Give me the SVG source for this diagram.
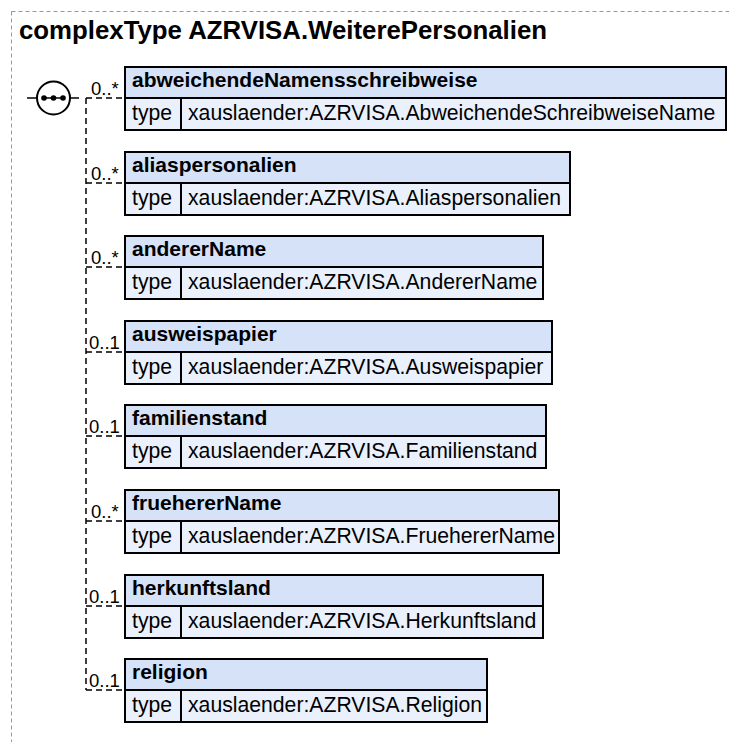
<svg xmlns="http://www.w3.org/2000/svg" width="729" height="742" viewBox="0 0 729 742">
<style>
.frame{fill:none;stroke:#999;stroke-width:1;stroke-dasharray:4 3}
.title{font-family:"Liberation Sans",Arial,sans-serif;font-weight:bold;font-size:25.8px;fill:#000}
.hdr{fill:#d5e2f8;stroke:#000;stroke-width:2}
.row{fill:#eaf1fc;stroke:#000;stroke-width:2}
.name{font-family:"Liberation Sans",Arial,sans-serif;font-weight:bold;font-size:21px;fill:#000}
.txt{font-family:"Liberation Sans",Arial,sans-serif;font-size:21.2px;fill:#000}
.card{font-family:"Liberation Sans",Arial,sans-serif;font-size:18.5px;fill:#000}
.con{fill:none;stroke:#000;stroke-width:1.5;stroke-dasharray:6 4}
.solid{fill:none;stroke:#000;stroke-width:1.5}
</style>
<rect class="frame" x="11.5" y="11.5" width="740" height="760"/>
<text class="title" x="19" y="39">complexType AZRVISA.WeiterePersonalien</text>

<g id="connectors">
<line class="solid" x1="27" y1="98" x2="37" y2="98"/>
<line class="solid" x1="70" y1="98" x2="79" y2="98"/>
<path class="con" d="M86,98 L125,98 M86,98 L86,690"/>
<line class="con" x1="86" y1="183" x2="125" y2="183"/>
<line class="con" x1="86" y1="267" x2="125" y2="267"/>
<line class="con" x1="86" y1="352" x2="125" y2="352"/>
<line class="con" x1="86" y1="436" x2="125" y2="436"/>
<line class="con" x1="86" y1="521" x2="125" y2="521"/>
<line class="con" x1="86" y1="606" x2="125" y2="606"/>
<line class="con" x1="86" y1="690" x2="125" y2="690"/>
<text class="card" x="91" y="95">0..*</text>
<text class="card" x="91" y="180">0..*</text>
<text class="card" x="91" y="264">0..*</text>
<text class="card" x="89" y="349">0..1</text>
<text class="card" x="89" y="433">0..1</text>
<text class="card" x="91" y="518">0..*</text>
<text class="card" x="89" y="603">0..1</text>
<text class="card" x="89" y="687">0..1</text>
</g>

<g id="sequence">
<circle cx="53.5" cy="98" r="16.5" fill="#fff" stroke="#000" stroke-width="2"/>
<line x1="44" y1="98" x2="63" y2="98" stroke="#000" stroke-width="1.5"/>
<circle cx="44" cy="98" r="2.8" fill="#000"/>
<circle cx="53.5" cy="98" r="2.8" fill="#000"/>
<circle cx="63" cy="98" r="2.8" fill="#000"/>
</g>

<g id="n1">
<rect class="hdr" x="125" y="67" width="601" height="31"/>
<rect class="row" x="125" y="98" width="56" height="32"/>
<rect class="row" x="181" y="98" width="545" height="32"/>
<text class="name" x="132" y="87">abweichendeNamensschreibweise</text>
<text class="txt" x="132" y="120">type</text>
<text class="txt" x="188" y="120">xauslaender:AZRVISA.AbweichendeSchreibweiseName</text>
</g>
<g id="n2">
<rect class="hdr" x="125" y="152" width="445" height="31"/>
<rect class="row" x="125" y="183" width="56" height="32"/>
<rect class="row" x="181" y="183" width="389" height="32"/>
<text class="name" x="132" y="172">aliaspersonalien</text>
<text class="txt" x="132" y="205">type</text>
<text class="txt" x="188" y="205">xauslaender:AZRVISA.Aliaspersonalien</text>
</g>
<g id="n3">
<rect class="hdr" x="125" y="236" width="418" height="31"/>
<rect class="row" x="125" y="267" width="56" height="32"/>
<rect class="row" x="181" y="267" width="362" height="32"/>
<text class="name" x="132" y="256">andererName</text>
<text class="txt" x="132" y="289">type</text>
<text class="txt" x="188" y="289">xauslaender:AZRVISA.AndererName</text>
</g>
<g id="n4">
<rect class="hdr" x="125" y="321" width="427" height="31"/>
<rect class="row" x="125" y="352" width="56" height="32"/>
<rect class="row" x="181" y="352" width="371" height="32"/>
<text class="name" x="132" y="341">ausweispapier</text>
<text class="txt" x="132" y="374">type</text>
<text class="txt" x="188" y="374">xauslaender:AZRVISA.Ausweispapier</text>
</g>
<g id="n5">
<rect class="hdr" x="125" y="405" width="421" height="31"/>
<rect class="row" x="125" y="436" width="56" height="32"/>
<rect class="row" x="181" y="436" width="365" height="32"/>
<text class="name" x="132" y="425">familienstand</text>
<text class="txt" x="132" y="458">type</text>
<text class="txt" x="188" y="458">xauslaender:AZRVISA.Familienstand</text>
</g>
<g id="n6">
<rect class="hdr" x="125" y="490" width="434" height="31"/>
<rect class="row" x="125" y="521" width="56" height="32"/>
<rect class="row" x="181" y="521" width="378" height="32"/>
<text class="name" x="132" y="510">fruehererName</text>
<text class="txt" x="132" y="543">type</text>
<text class="txt" x="188" y="543">xauslaender:AZRVISA.FruehererName</text>
</g>
<g id="n7">
<rect class="hdr" x="125" y="575" width="418" height="31"/>
<rect class="row" x="125" y="606" width="56" height="32"/>
<rect class="row" x="181" y="606" width="362" height="32"/>
<text class="name" x="132" y="595">herkunftsland</text>
<text class="txt" x="132" y="628">type</text>
<text class="txt" x="188" y="628">xauslaender:AZRVISA.Herkunftsland</text>
</g>
<g id="n8">
<rect class="hdr" x="125" y="659" width="362" height="31"/>
<rect class="row" x="125" y="690" width="56" height="32"/>
<rect class="row" x="181" y="690" width="306" height="32"/>
<text class="name" x="132" y="679">religion</text>
<text class="txt" x="132" y="712">type</text>
<text class="txt" x="188" y="712">xauslaender:AZRVISA.Religion</text>
</g>
</svg>
